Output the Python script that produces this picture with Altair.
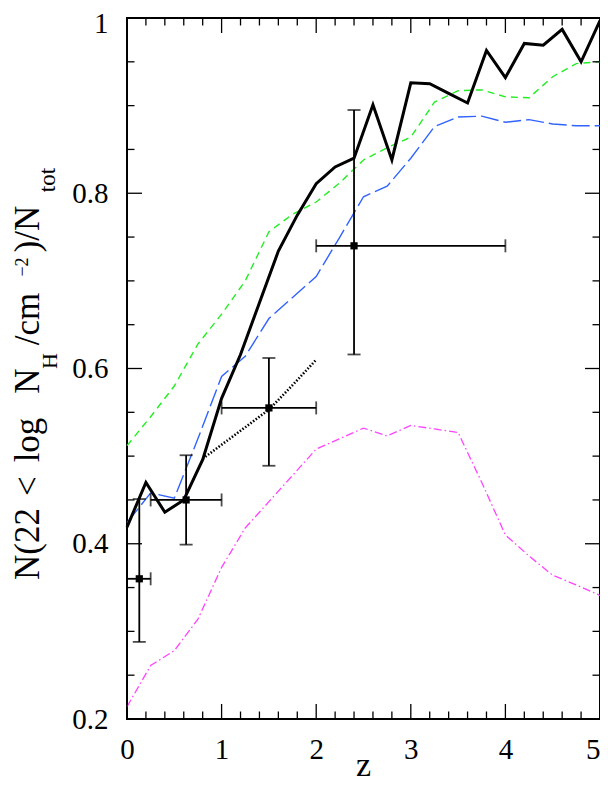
import altair as alt
import pandas as pd

# ---------------- data ----------------
z_sim = [0.0, 0.2, 0.4, 0.6, 0.8, 1.0, 1.2, 1.4, 1.6, 1.8, 2.0, 2.2, 2.4, 2.6,
         2.8, 3.0, 3.2, 3.4, 3.6, 3.8, 4.0, 4.2, 4.4, 4.6, 4.8, 5.0]
f_sim = [0.419, 0.470, 0.436, 0.450, 0.496, 0.566, 0.616, 0.675, 0.734, 0.775,
         0.811, 0.830, 0.840, 0.901, 0.838, 0.926, 0.925, 0.914, 0.903, 0.963,
         0.932, 0.971, 0.969, 0.987, 0.950, 0.997]

z_mod = [0.0, 0.25, 0.5, 0.75, 1.0, 1.25, 1.5, 1.75, 2.0, 2.25, 2.5, 2.75, 3.0,
         3.25, 3.5, 3.75, 4.0, 4.25, 4.5, 4.75, 5.0]
f_green = [0.512, 0.545, 0.580, 0.628, 0.662, 0.700, 0.756, 0.776, 0.790, 0.812,
           0.838, 0.852, 0.864, 0.904, 0.917, 0.918, 0.910, 0.909, 0.933, 0.948, 0.950]
f_blue = [0.424, 0.458, 0.452, 0.520, 0.591, 0.614, 0.657, 0.681, 0.705, 0.750,
          0.796, 0.808, 0.840, 0.876, 0.887, 0.888, 0.881, 0.884, 0.879, 0.877, 0.877]
f_magenta = [0.214, 0.261, 0.278, 0.314, 0.373, 0.418, 0.448, 0.478, 0.508, 0.520,
             0.532, 0.523, 0.535, 0.531, 0.527, 0.470, 0.410, 0.386, 0.364, 0.353, 0.341]

z_dot = [0.8, 1.0, 1.25, 1.5, 1.75, 2.0]
f_dot = [0.497, 0.513, 0.533, 0.553, 0.581, 0.610]

err_z = [0.13, 0.625, 1.5, 2.4]
err_zlo = [0.0, 0.25, 1.0, 2.0]
err_zhi = [0.25, 1.0, 2.0, 4.0]
err_f = [0.360, 0.450, 0.555, 0.740]
err_flo = [0.288, 0.399, 0.489, 0.616]
err_fhi = [0.451, 0.501, 0.612, 0.895]

x_major = [0, 1, 2, 3, 4, 5]
x_minor = [0.2, 0.4, 0.6, 0.8, 1.2, 1.4, 1.6, 1.8, 2.2, 2.4, 2.6, 2.8,
           3.2, 3.4, 3.6, 3.8, 4.2, 4.4, 4.6, 4.8]
y_major = [0.2, 0.4, 0.6, 0.8, 1.0]
y_minor = [0.25, 0.3, 0.35, 0.45, 0.5, 0.55, 0.65, 0.7, 0.75, 0.85, 0.9, 0.95]

# ---------------- layout ----------------
W, H = 473, 701
TOP = 10
FONT = "Liberation Serif"
xs = alt.Scale(domain=[0, 5], nice=False, zero=False)
ys = alt.Scale(domain=[0.2, 1.0], nice=False, zero=False)
xaxis = alt.Axis(values=x_major, grid=False, domain=False, ticks=False, tickSize=0,
                 labelFont=FONT, labelFontSize=29, labelColor="black",
                 labelPadding=16, labelFlush=False, title=None, format="d",
                 labelAlign={"condition": {"test": "datum.value == 5", "value": "right"},
                             "value": "center"})
yaxis = alt.Axis(values=y_major, grid=False, domain=False, ticks=False, tickSize=0,
                 labelFont=FONT, labelFontSize=29, labelColor="black",
                 labelPadding=19, labelFlush=False, title=None,
                 labelOffset={"condition": {"test": "datum.value == 1", "value": 5},
                              "value": 0},
                 labelExpr="datum.value == 1 ? '1' : format(datum.value, '.1f')")


def X(field):
    return alt.X(f"{field}:Q", scale=xs, axis=xaxis)


def Y(field):
    return alt.Y(f"{field}:Q", scale=ys, axis=yaxis)


def line(z, f, **kw):
    df = pd.DataFrame({"z": z, "f": f})
    return alt.Chart(df).mark_line(**kw).encode(x=X("z"), y=Y("f"), order="z:Q")


layers = []
layers.append(line(z_mod, f_magenta, color="#ff44ff", strokeWidth=1.3, strokeDash=[8, 3, 1.5, 3]))
layers.append(line(z_mod, f_green, color="#22ee22", strokeWidth=1.4, strokeDash=[7, 5]))
layers.append(line(z_mod, f_blue, color="#3063ff", strokeWidth=1.4, strokeDash=[18, 5]))
layers.append(line(z_dot, f_dot, color="black", strokeWidth=2.6, strokeDash=[1.5, 1.8]))
layers.append(line(z_sim, f_sim, color="black", strokeWidth=3))

err = pd.DataFrame({"z": err_z, "zlo": err_zlo, "zhi": err_zhi,
                    "f": err_f, "flo": err_flo, "fhi": err_fhi})
eb = alt.Chart(err)
layers.append(eb.mark_rule(color="black", strokeWidth=1.8).encode(x=X("z"), y=Y("flo"), y2="fhi:Q"))
layers.append(eb.mark_rule(color="black", strokeWidth=1.8).encode(x=X("zlo"), x2="zhi:Q", y=Y("f")))
layers.append(eb.mark_tick(color="black", thickness=1.8, size=13, orient="horizontal").encode(x=X("z"), y=Y("flo")))
layers.append(eb.mark_tick(color="black", thickness=1.8, size=13, orient="horizontal").encode(x=X("z"), y=Y("fhi")))
layers.append(eb.mark_tick(color="black", thickness=1.8, size=13, orient="vertical").encode(x=X("zlo"), y=Y("f")))
layers.append(eb.mark_tick(color="black", thickness=1.8, size=13, orient="vertical").encode(x=X("zhi"), y=Y("f")))
layers.append(eb.mark_square(color="black", size=52, opacity=1).encode(x=X("z"), y=Y("f")))

# inward ticks on all four sides
for vals, L in ((x_major, 15), (x_minor, 7.5)):
    d = alt.Chart(pd.DataFrame({"t": vals}))
    layers.append(d.mark_rule(color="black", strokeWidth=1.3).encode(x=X("t"), y=alt.value(H), y2=alt.value(H - L)))
    layers.append(d.mark_rule(color="black", strokeWidth=1.3).encode(x=X("t"), y=alt.value(0), y2=alt.value(L)))
for vals, L in ((y_major, 15), (y_minor, 7.5)):
    d = alt.Chart(pd.DataFrame({"t": vals}))
    layers.append(d.mark_rule(color="black", strokeWidth=1.3).encode(y=Y("t"), x=alt.value(0), x2=alt.value(L)))
    layers.append(d.mark_rule(color="black", strokeWidth=1.3).encode(y=Y("t"), x=alt.value(W), x2=alt.value(W - L)))

# y-axis title assembled from pieces: (text, centre y on page, baseline x on page, font size)
title_pieces = [
    ("N(22", 544, 39, 35), ("<", 486, 39, 35), ("log", 440, 39, 35),
    ("N", 381, 39, 35), ("H", 361, 57, 22), ("/cm", 319, 39, 35),
    ("\u22122", 267, 28, 18), (")/N", 229, 39, 35), ("tot", 180, 55, 23),
]
for txt, py, px, fs in title_pieces:
    layers.append(
        alt.Chart(pd.DataFrame({"t": [txt]})).mark_text(
            angle=270, align="center", baseline="alphabetic", font=FONT, fontSize=fs, color="black"
        ).encode(text="t:N", x=alt.value(px - 127), y=alt.value(py - 8 - TOP))
    )

layers.append(
    alt.Chart(pd.DataFrame({"t": ["z"]})).mark_text(
        align="center", baseline="alphabetic", font=FONT, fontSize=34, color="black"
    ).encode(text="t:N", x=alt.value(W / 2), y=alt.value(H + 57))
)

chart = alt.layer(*layers).properties(
    width=W, height=H,
    padding={"left": 119, "top": TOP, "right": 0, "bottom": 66},
    autosize=alt.AutoSizeParams(type="none"),
).configure_view(stroke="black", strokeWidth=2)

chart.save("out.html", embed_options={"renderer": "svg", "actions": False})
